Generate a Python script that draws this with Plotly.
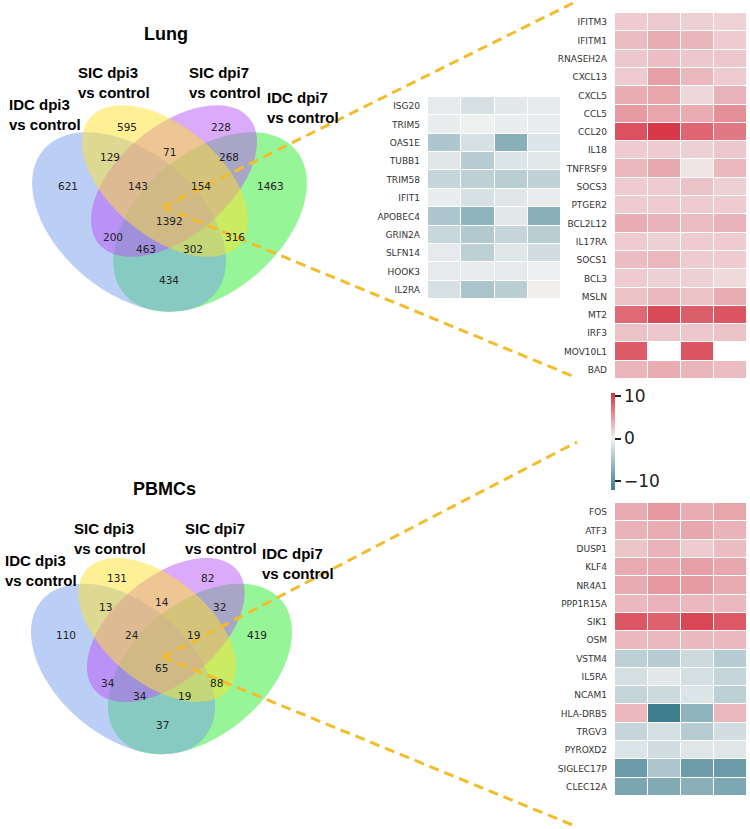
import numpy as np
import plotly.graph_objects as go

# ---------------- data ----------------
region_keys = ["1000", "0100", "0010", "0001", "1100", "0110", "0011", "1110",
               "0111", "1111", "1010", "0101", "1011", "1101", "1001"]
lung_counts = [621, 595, 228, 1463, 129, 71, 268, 143, 154, 1392, 200, 316, 463, 302, 434]
pbmc_counts = [110, 131, 82, 419, 13, 14, 32, 24, 19, 65, 34, 88, 34, 19, 37]
set_labels = ["IDC dpi3<br>vs control", "SIC dpi3<br>vs control",
              "SIC dpi7<br>vs control", "IDC dpi7<br>vs control"]
panel_titles = ["Lung", "PBMCs"]

lung_up_genes = ["IFITM3", "IFITM1", "RNASEH2A", "CXCL13", "CXCL5", "CCL5", "CCL20", "IL18",
                 "TNFRSF9", "SOCS3", "PTGER2", "BCL2L12", "IL17RA", "SOCS1", "BCL3", "MSLN",
                 "MT2", "IRF3", "MOV10L1", "BAD"]
lung_up_values = [
    [2.2, 2.3, 1.9, 1.8],
    [3.0, 3.8, 3.4, 2.2],
    [2.4, 2.9, 2.4, 2.4],
    [2.2, 4.6, 3.3, 2.2],
    [3.8, 4.3, 1.5, 3.5],
    [4.9, 4.3, 3.9, 5.5],
    [8.9, 10.2, 7.8, 6.7],
    [2.2, 2.2, 1.9, 2.4],
    [3.3, 4.1, 0.8, 3.3],
    [2.2, 2.2, 2.7, 1.9],
    [2.2, 2.2, 2.2, 2.2],
    [3.8, 3.5, 3.0, 3.5],
    [2.2, 1.9, 2.2, 2.2],
    [3.0, 3.3, 2.2, 2.2],
    [2.2, 1.9, 1.9, 1.4],
    [2.7, 3.3, 2.7, 3.8],
    [7.6, 9.2, 8.2, 8.7],
    [2.7, 2.4, 2.4, 2.7],
    [8.3, None, 8.7, None],
    [3.4, 3.8, 3.4, 3.0],
]

lung_down_genes = ["ISG20", "TRIM5", "OAS1E", "TUBB1", "TRIM58", "IFIT1", "APOBEC4",
                   "GRIN2A", "SLFN14", "HOOK3", "IL2RA"]
lung_down_values = [
    [-0.8, -1.8, -1.0, -0.8],
    [-0.5, -0.2, -0.5, -0.5],
    [-4.5, -1.8, -7.0, -1.5],
    [-1.2, -4.0, -1.5, -1.0],
    [-3.0, -3.5, -3.8, -3.3],
    [-0.5, -1.8, -1.2, -0.6],
    [-4.5, -6.5, -1.0, -7.0],
    [-2.8, -4.3, -3.0, -3.8],
    [-0.8, -3.5, -1.3, -2.2],
    [-0.8, -0.6, -0.8, -0.3],
    [-1.8, -4.8, -3.8, 0.3],
]

pbmc_genes = ["FOS", "ATF3", "DUSP1", "KLF4", "NR4A1", "PPP1R15A", "SIK1", "OSM", "VSTM4",
              "IL5RA", "NCAM1", "HLA-DRB5", "TRGV3", "PYROXD2", "SIGLEC17P", "CLEC12A"]
pbmc_values = [
    [4.0, 5.0, 3.8, 4.3],
    [3.5, 3.8, 4.2, 3.5],
    [2.5, 3.5, 2.2, 3.0],
    [4.0, 4.2, 4.6, 4.2],
    [4.0, 5.0, 4.8, 4.0],
    [3.2, 3.5, 3.2, 3.2],
    [8.6, 8.0, 9.5, 8.5],
    [3.2, 3.2, 3.2, 3.2],
    [-3.5, -4.0, -2.5, -4.0],
    [-2.0, -1.0, -2.0, -3.0],
    [-3.0, -2.5, -1.5, -3.5],
    [3.2, -12.0, -6.5, 3.2],
    [-3.0, -2.0, -4.0, -2.2],
    [-1.5, -2.2, -1.3, -1.3],
    [-9.0, -4.5, -8.8, -9.0],
    [-8.0, -7.5, -7.0, -7.8],
]
columns = ["c1", "c2", "c3", "c4"]
cbar_ticks = [-10, 0, 10]
ZMIN, ZMAX = -12.1, 10.7

# ---------------- layout constants ----------------
W, H = 750, 829
FONT_B = "Liberation Sans, Arial, sans-serif"
FONT_N = "DejaVu Sans, sans-serif"

# lung venn geometry (pixel frame); PBMC venn = scaled copy
LUNG_CENTER = (169.5, 221.0)
PBMC_CENTER = (161.5, 668.0)
PBMC_SCALE = 0.95
ELLIPSES = [  # cx, cy, a, b, angle(deg, y down)
    (129, 222, 112, 70, 40),   # IDC dpi3 (blue)
    (165, 181, 98, 55, 40),    # SIC dpi3 (yellow)
    (174, 181, 98, 55, 140),   # SIC dpi7 (purple)
    (210, 222, 112, 70, 140),  # IDC dpi7 (green)
]
ELL_COLORS = ["rgba(120,160,238,0.5)", "rgba(255,225,45,0.5)",
              "rgba(185,85,245,0.5)", "rgba(45,235,45,0.5)"]
DRAW_ORDER = [3, 0, 2, 1]

LUNG_POS = {"1000": (68, 186), "0100": (127, 127), "0010": (221, 127), "0001": (270, 186),
            "1100": (110, 157), "0110": (169, 152), "0011": (229, 157), "1110": (138, 186),
            "0111": (201, 186), "1111": (169, 221), "1010": (113, 237), "0101": (235, 237),
            "1011": (146, 249), "1101": (193, 249), "1001": (169, 280)}
PBMC_POS = {"1000": (66, 635), "0100": (117, 578), "0010": (207, 578), "0001": (257, 635),
            "1100": (105, 607), "0110": (162, 602), "0011": (219, 607), "1110": (132, 635),
            "0111": (193, 635), "1111": (161, 668), "1010": (108, 683), "0101": (216, 683),
            "1011": (140, 696), "1101": (184, 696), "1001": (162, 725)}
LUNG_LABEL_POS = [(7, 114.5), (76, 82), (187, 82), (265, 107)]
PBMC_LABEL_POS = [(3, 570.5), (72, 538), (183, 538), (260, 563)]
TITLE_POS = [(166, 34), (164, 489)]

LINES = [((163, 207), (575, 2)), ((163, 207), (575, 377)),
         ((163, 657), (577, 442)), ((163, 657), (575, 826))]

fig = go.Figure()

# base pixel axis
fig.add_trace(go.Scatter(x=[0], y=[0], mode="markers", marker=dict(opacity=0),
                         showlegend=False, hoverinfo="skip", xaxis="x", yaxis="y"))


def ellipse_path(cx, cy, a, b, ang):
    t = np.linspace(0, 2 * np.pi, 120)
    th = np.deg2rad(ang)
    xs = cx + a * np.cos(t) * np.cos(th) - b * np.sin(t) * np.sin(th)
    ys = cy + a * np.cos(t) * np.sin(th) + b * np.sin(t) * np.cos(th)
    return "M " + " L ".join(f"{x:.2f},{y:.2f}" for x, y in zip(xs, ys)) + " Z"


shapes = []
for center, scale in [(LUNG_CENTER, 1.0), (PBMC_CENTER, PBMC_SCALE)]:
    for i in DRAW_ORDER:
        cx, cy, a, b, ang = ELLIPSES[i]
        ncx = center[0] + (cx - LUNG_CENTER[0]) * scale
        ncy = center[1] + (cy - LUNG_CENTER[1]) * scale
        shapes.append(dict(type="path", xref="x", yref="y",
                           path=ellipse_path(ncx, ncy, a * scale, b * scale, ang),
                           fillcolor=ELL_COLORS[i], line=dict(width=0), layer="above"))

for (x0, y0), (x1, y1) in LINES:
    shapes.append(dict(type="line", xref="x", yref="y", x0=x0, y0=y0, x1=x1, y1=y1,
                       line=dict(color="#f3bc2c", width=3, dash="10px,6px"), layer="above"))

annotations = []
for counts, pos in [(lung_counts, LUNG_POS), (pbmc_counts, PBMC_POS)]:
    for k, c in zip(region_keys, counts):
        x, y = pos[k]
        annotations.append(dict(x=x, y=y, xref="x", yref="y", text=str(c), showarrow=False,
                                font=dict(family=FONT_N, size=10.5, color="#222222"),
                                xanchor="center", yanchor="middle"))
for lp in [LUNG_LABEL_POS, PBMC_LABEL_POS]:
    for lab, (x, y) in zip(set_labels, lp):
        annotations.append(dict(x=x, y=y, xref="x", yref="y", text="<b>" + lab + "</b>",
                                showarrow=False, align="left", xanchor="left", yanchor="middle",
                                font=dict(family=FONT_B, size=15, color="#000000")))
for t, (x, y) in zip(panel_titles, TITLE_POS):
    annotations.append(dict(x=x, y=y, xref="x", yref="y", text="<b>" + t + "</b>",
                            showarrow=False, xanchor="center", yanchor="middle",
                            font=dict(family=FONT_B, size=18, color="#000000")))

# colorscale (diverging teal - light - red, centred on 0)
p0 = -ZMIN / (ZMAX - ZMIN)
colorscale = [[0.0, "rgb(60,125,143)"], [p0 / 2, "rgb(151,184,193)"], [p0, "rgb(242,242,242)"],
              [p0 + (1 - p0) / 2, "rgb(229,146,155)"], [1.0, "rgb(214,48,64)"]]


def arr(v):
    return np.array([[np.nan if x is None else x for x in row] for row in v], dtype=float)


heat_specs = [
    (lung_down_genes, lung_down_values, "x2", "y2", [428, 561], [97, 299]),
    (lung_up_genes, lung_up_values, "x3", "y3", [615, 747], [13, 379]),
    (pbmc_genes, pbmc_values, "x4", "y4", [615, 747], [503, 796]),
]
layout_axes = {}
for idx, (genes, vals, xa, ya, xpx, ypx) in enumerate(heat_specs):
    fig.add_trace(go.Heatmap(z=arr(vals), x=columns, y=genes, coloraxis="coloraxis",
                             xgap=1, ygap=1, xaxis=xa, yaxis=ya, hoverongaps=False))
    n = xa[1:]
    layout_axes[f"xaxis{n}"] = dict(domain=[xpx[0] / W, xpx[1] / W], anchor=ya,
                                    showticklabels=False, showgrid=False, zeroline=False,
                                    ticks="", showline=False)
    layout_axes[f"yaxis{n}"] = dict(domain=[1 - ypx[1] / H, 1 - ypx[0] / H], anchor=xa,
                                    autorange="reversed", showgrid=False, zeroline=False,
                                    ticks="", showline=False, ticklabelstandoff=7,
                                    tickfont=dict(family=FONT_N, size=9, color="#333333"))

fig.update_layout(
    width=W, height=H, margin=dict(l=0, r=0, t=0, b=0),
    paper_bgcolor="white", plot_bgcolor="white",
    xaxis=dict(domain=[0, 1], range=[0, W], visible=False, fixedrange=True),
    yaxis=dict(domain=[0, 1], range=[H, 0], visible=False, fixedrange=True),
    shapes=shapes, annotations=annotations, showlegend=False,
    coloraxis=dict(colorscale=colorscale, cmin=ZMIN, cmax=ZMAX,
                   colorbar=dict(x=611 / W, xanchor="left", y=1 - 441.5 / H, yanchor="middle",
                                 len=97, lenmode="pixels", thickness=4, xpad=0, ypad=0,
                                 outlinewidth=0, ticks="outside", ticklen=6, tickwidth=1.5,
                                 tickcolor="#222222", tickvals=cbar_ticks,
                                 ticktext=["\u221210", "0", "10"],
                                 tickfont=dict(family=FONT_N, size=17, color="#222222"))),
    **layout_axes,
)

fig.write_html("out.html")
